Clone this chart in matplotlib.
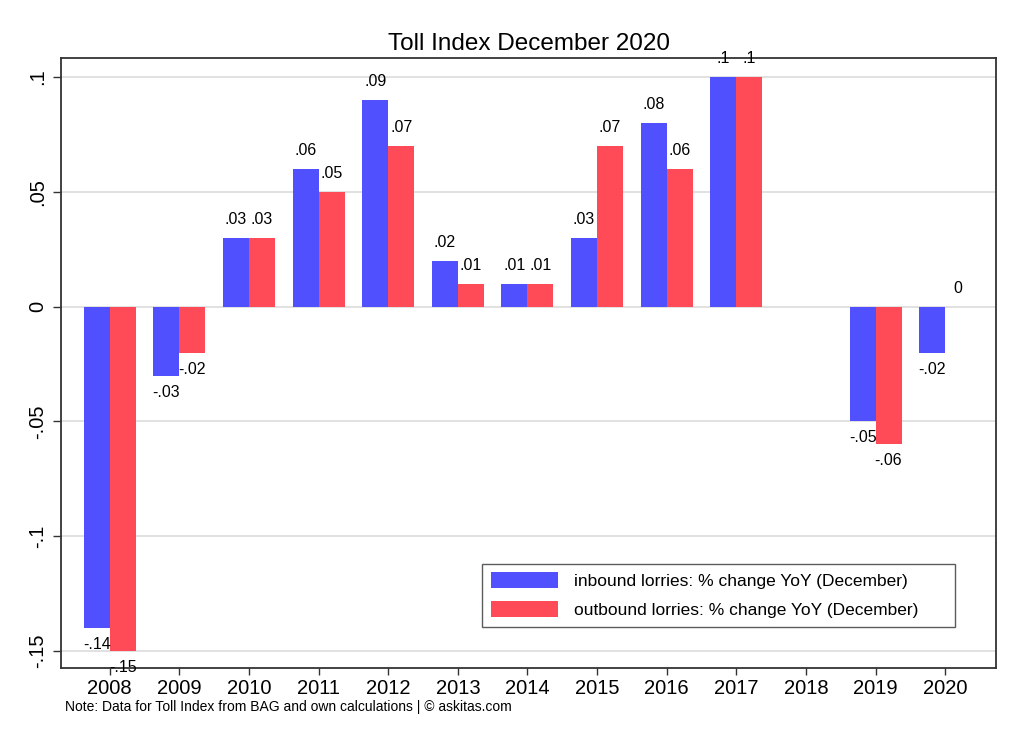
import numpy as np
import matplotlib
matplotlib.use("Agg")
import matplotlib.pyplot as plt

years = [2008, 2009, 2010, 2011, 2012, 2013, 2014, 2015, 2016, 2017, 2018, 2019, 2020]
inbound = [-0.14, -0.03, 0.03, 0.06, 0.09, 0.02, 0.01, 0.03, 0.08, 0.10, np.nan, -0.05, -0.02]
outbound = [-0.15, -0.02, 0.03, 0.05, 0.07, 0.01, 0.01, 0.07, 0.06, 0.10, np.nan, -0.06, 0.00]
yticks = [0.1, 0.05, 0, -0.05, -0.1, -0.15]
labels = ["inbound lorries: % change YoY (December)", "outbound lorries: % change YoY (December)"]
title = "Toll Index December 2020"
note = "Note: Data for Toll Index from BAG and own calculations | \u00a9 askitas.com"

plt.rcParams['font.family'] = ['Liberation Sans', 'DejaVu Sans']

def fmt(v):
    s = ("%g" % round(v, 4))
    if s.startswith("0.") :
        s = s[1:]
    elif s.startswith("-0."):
        s = "-" + s[2:]
    return s

fig = plt.figure(figsize=(10.24, 7.45), dpi=100)
ax = fig.add_axes([61/1024, 1-668/745, (996-61)/1024, (668-58)/745])

w = 0.373
x = np.array(years, dtype=float)
blue = "#5050FF"
red = "#FF4B57"
ax.bar(x - w/2, inbound, width=w, color=blue, label=labels[0], zorder=2)
ax.bar(x + w/2, outbound, width=w, color=red, label=labels[1], zorder=2)

for xs, vals in ((x - w/2, inbound), (x + w/2, outbound)):
    for xi, v in zip(xs, vals):
        if np.isnan(v):
            continue
        if v >= 0:
            ax.annotate(fmt(v), (xi, v), xytext=(0, 8), textcoords="offset points",
                        ha="center", va="bottom", fontsize=11.5)
        else:
            ax.annotate(fmt(v), (xi, v), xytext=(0, -6.5), textcoords="offset points",
                        ha="center", va="top", fontsize=11.5)

ax.set_xlim(2007.30, 2020.73)
ax.set_ylim(-0.1574, 0.1083)
ax.set_yticks(yticks)
ax.set_yticklabels([fmt(t) for t in yticks], rotation=90, va="center", fontsize=14.5)
ax.set_xticks(years)
ax.set_xticklabels([str(y) for y in years], fontsize=14.5)
ax.yaxis.grid(True, color="#dcdcdc", linewidth=1.2, zorder=0)
ax.set_axisbelow(True)
ax.tick_params(axis="y", length=6, width=1, color="#333333", pad=4)
ax.tick_params(axis="x", length=5, width=1, color="#333333", pad=3)
for sp in ax.spines.values():
    sp.set_color("#333333")
    sp.set_linewidth(1.3)

ax.set_title(title, fontsize=17.5, pad=6)

leg = ax.legend(loc="lower left",
                bbox_to_anchor=(482/1024, 1-627/745, (955-482)/1024, (627-565)/745),
                bbox_transform=fig.transFigure, mode="expand", borderaxespad=0,
                fontsize=12.5, frameon=True, fancybox=False, edgecolor="#333333",
                handlelength=3.9, handleheight=1.05, handletextpad=0.9, borderpad=0.5,
                labelspacing=0.7)
leg.get_frame().set_linewidth(1.0)

fig.text(65/1024, 1-707/745, note, fontsize=10, va="center", ha="left")

fig.savefig("out.png", dpi=100, facecolor="white")
